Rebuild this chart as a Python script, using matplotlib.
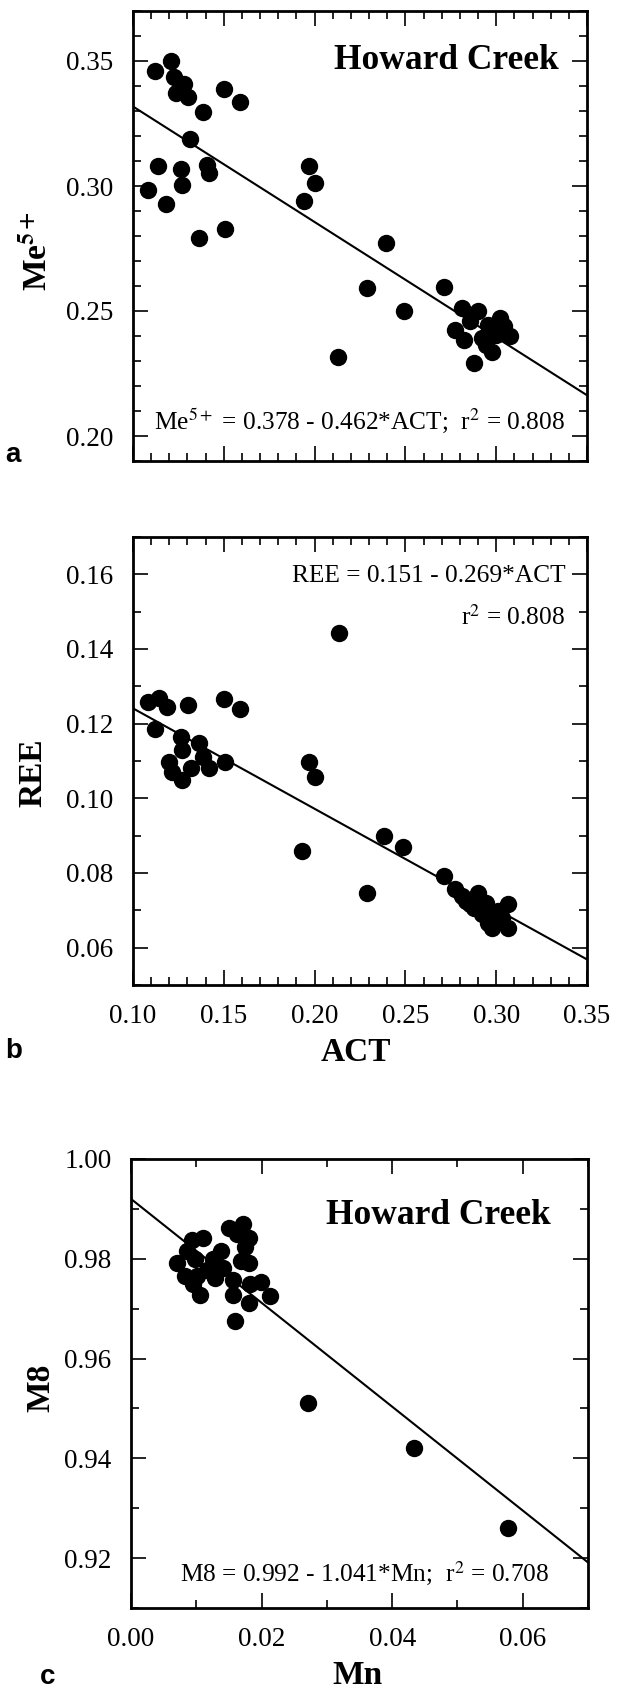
import numpy as np
import matplotlib
matplotlib.use('Agg')
from matplotlib import pyplot as plt
from matplotlib.ticker import MultipleLocator, FormatStrFormatter

plt.rcParams['font.family'] = ['Liberation Serif', 'DejaVu Serif']
plt.rcParams['mathtext.fontset'] = 'stix'

# panel a: ACT vs Me5+
act_a = [0.1123, 0.1208, 0.1225, 0.1279, 0.1236, 0.1305, 0.1500, 0.1588, 0.1383, 0.1314,
         0.1138, 0.1084, 0.1182, 0.1262, 0.1270, 0.1409, 0.1420, 0.1365, 0.1506, 0.1939,
         0.1971, 0.2003, 0.2127, 0.2289, 0.2393, 0.2490, 0.2713, 0.2771, 0.2814, 0.2821,
         0.2858, 0.2901, 0.2879, 0.2923, 0.2955, 0.2977, 0.3020, 0.3042, 0.3074, 0.2944,
         0.2998]
me5 = [0.3462, 0.3500, 0.3435, 0.3408, 0.3372, 0.3358, 0.3389, 0.3335, 0.3295, 0.3189,
       0.3081, 0.2986, 0.2928, 0.3068, 0.3003, 0.3084, 0.3054, 0.2791, 0.2827, 0.2939,
       0.3081, 0.3011, 0.2318, 0.2592, 0.2770, 0.2500, 0.2595, 0.2426, 0.2514, 0.2385,
       0.2459, 0.2500, 0.2291, 0.2392, 0.2446, 0.2338, 0.2473, 0.2439, 0.2399, 0.2365,
       0.2405]

# panel b: ACT vs REE
act_b = [0.1080, 0.1145, 0.1188, 0.1121, 0.1301, 0.1500, 0.1588, 0.1262, 0.1365, 0.1268,
         0.1197, 0.1214, 0.1268, 0.1322, 0.1387, 0.1420, 0.1506, 0.1971, 0.2003, 0.1928,
         0.2135, 0.2287, 0.2382, 0.2486, 0.2713, 0.2771, 0.2814, 0.2836, 0.2901, 0.2879,
         0.2944, 0.2923, 0.2977, 0.2977, 0.3009, 0.3063, 0.3067, 0.3031, 0.2858, 0.2955]
ree = [0.1258, 0.1268, 0.1244, 0.1185, 0.1251, 0.1267, 0.1240, 0.1164, 0.1148, 0.1129,
       0.1098, 0.1071, 0.1049, 0.1080, 0.1111, 0.1082, 0.1098, 0.1098, 0.1058, 0.0860,
       0.1443, 0.0747, 0.0900, 0.0869, 0.0791, 0.0758, 0.0738, 0.0724, 0.0747, 0.0707,
       0.0720, 0.0689, 0.0680, 0.0653, 0.0698, 0.0716, 0.0653, 0.0680, 0.0716, 0.0667]

# panel c: Mn vs M8
mn = [0.0071, 0.0083, 0.0094, 0.0111, 0.0098, 0.0095, 0.0105, 0.0126, 0.0129, 0.0117,
      0.0141, 0.0150, 0.0162, 0.0171, 0.0174, 0.0180, 0.0168, 0.0180, 0.0156, 0.0156,
      0.0159, 0.0181, 0.0183, 0.0199, 0.0213, 0.0271, 0.0433, 0.0578, 0.0138, 0.0086,
      0.0101]
m8 = [0.9791, 0.9765, 0.9837, 0.9841, 0.9799, 0.9749, 0.9728, 0.9799, 0.9761, 0.9778,
      0.9782, 0.9862, 0.9849, 0.9870, 0.9824, 0.9841, 0.9795, 0.9791, 0.9757, 0.9728,
      0.9675, 0.9711, 0.9749, 0.9753, 0.9725, 0.9510, 0.9420, 0.9260, 0.9816, 0.9816,
      0.9765]

# regression coefficients (intercept, slope)
fit_a = (0.378, -0.462)
fit_b = (0.151, -0.269)
fit_c = (0.992, -1.041)

W, H = 617, 1689
fig = plt.figure(figsize=(W / 100, H / 100), dpi=100)

TICK_FS = 19.5
LAB_FS = 24
EQ_FS = 18.3
HC_FS = 25.5


def box(l, t, r, b):
    return [l / W, 1 - b / H, (r - l) / W, (b - t) / H]


def style(ax, xmaj, xmin, ymaj, ymin):
    ax.xaxis.set_major_locator(MultipleLocator(xmaj))
    ax.xaxis.set_minor_locator(MultipleLocator(xmin))
    ax.yaxis.set_major_locator(MultipleLocator(ymaj))
    ax.yaxis.set_minor_locator(MultipleLocator(ymin))
    ax.xaxis.set_major_formatter(FormatStrFormatter('%.2f'))
    ax.yaxis.set_major_formatter(FormatStrFormatter('%.2f'))
    ax.tick_params(which='both', direction='in', top=True, right=True, width=1.2)
    ax.tick_params(which='major', length=11, labelsize=TICK_FS, pad=14)
    ax.tick_params(which='minor', length=5.5)
    for s in ax.spines.values():
        s.set_linewidth(2)


def fitline(ax, fit, xlim):
    xs = np.array(xlim)
    ax.plot(xs, fit[0] + fit[1] * xs, color='black', lw=1.5, zorder=2)


# ---- panel a
ax1 = fig.add_axes(box(133, 11, 587, 461))
ax1.plot(act_a, me5, 'o', color='black', ms=11.5, zorder=3)
fitline(ax1, fit_a, (0.10, 0.35))
ax1.set_xlim(0.10, 0.35)
ax1.set_ylim(0.19, 0.37)
style(ax1, 0.05, 0.01, 0.05, 0.01)
ax1.tick_params(labelbottom=False)
ax1.set_ylabel(r'Me$^{\mathbf{5+}}$', fontsize=LAB_FS, fontweight='bold', va='center')
ax1.yaxis.set_label_coords(-0.21, 0.467)
ax1.text(0.938, 0.889, 'Howard Creek', transform=ax1.transAxes, ha='right', va='center',
         fontsize=HC_FS, fontweight='bold')
ax1.text(0.952, 0.089, r'Me$^{5+}$ = 0.378 - 0.462*ACT;  r$^2$ = 0.808',
         transform=ax1.transAxes, ha='right', va='center', fontsize=EQ_FS)

# ---- panel b
ax2 = fig.add_axes(box(133, 537, 587, 985))
ax2.plot(act_b, ree, 'o', color='black', ms=11.5, zorder=3)
fitline(ax2, fit_b, (0.10, 0.35))
ax2.set_xlim(0.10, 0.35)
ax2.set_ylim(0.05, 0.17)
style(ax2, 0.05, 0.01, 0.02, 0.01)
ax2.set_ylabel('REE', fontsize=LAB_FS, fontweight='bold', va='center')
ax2.yaxis.set_label_coords(-0.22, 0.475)
ax2.set_xlabel('ACT', fontsize=LAB_FS, fontweight='bold', va='center')
ax2.xaxis.set_label_coords(0.49, -0.15)
ax2.text(0.952, 0.9125, 'REE = 0.151 - 0.269*ACT', transform=ax2.transAxes,
         ha='right', va='center', fontsize=EQ_FS)
ax2.text(0.952, 0.82, r'r$^2$ = 0.808', transform=ax2.transAxes,
         ha='right', va='center', fontsize=EQ_FS)

# ---- panel c
ax3 = fig.add_axes(box(131, 1159, 588, 1608))
ax3.plot(mn, m8, 'o', color='black', ms=11.5, zorder=3)
fitline(ax3, fit_c, (0.0, 0.07))
ax3.set_xlim(0.0, 0.07)
ax3.set_ylim(0.91, 1.00)
style(ax3, 0.02, 0.01, 0.02, 0.01)
ax3.set_ylabel('M8', fontsize=LAB_FS, fontweight='bold', va='center')
ax3.yaxis.set_label_coords(-0.197, 0.49)
ax3.set_xlabel('Mn', fontsize=LAB_FS, fontweight='bold', va='center')
ax3.xaxis.set_label_coords(0.495, -0.15)
ax3.text(0.919, 0.874, 'Howard Creek', transform=ax3.transAxes, ha='right', va='center',
         fontsize=HC_FS, fontweight='bold')
ax3.text(0.915, 0.078, r'M8 = 0.992 - 1.041*Mn;  r$^2$ = 0.708',
         transform=ax3.transAxes, ha='right', va='center', fontsize=EQ_FS)

# panel letters
for lab, px, py in [('a', 13, 455), ('b', 14, 1051), ('c', 48, 1677)]:
    fig.text(px / W, 1 - py / H, lab, ha='center', va='center', fontsize=20,
             fontweight='bold', family=['Liberation Sans', 'DejaVu Sans'])

fig.savefig('out.png', dpi=100)
